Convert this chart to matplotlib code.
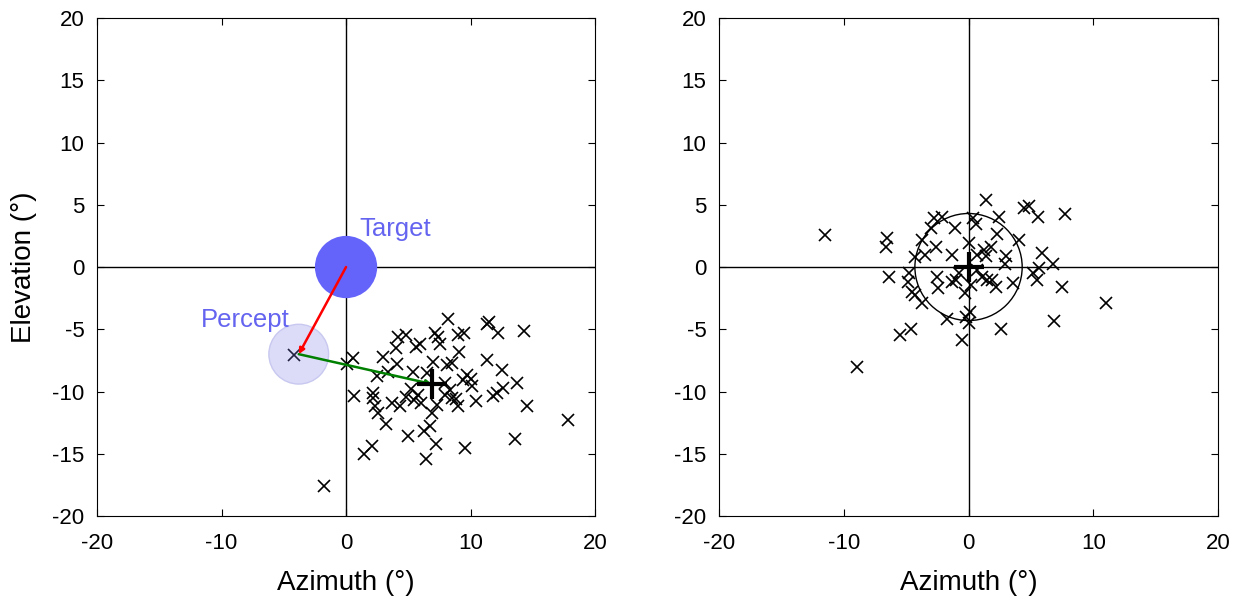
import numpy as np
import matplotlib
matplotlib.use("Agg")
import matplotlib.pyplot as plt
from matplotlib.patches import Circle

plt.rcParams['font.family'] = ['Liberation Sans', 'DejaVu Sans']
plt.rcParams['axes.unicode_minus'] = False

# left panel: responses to a target at (0, 0)
left_az = [8.2, 11.3, 11.5, 12.2, 14.3, 4.15, 4.8, 4.0, 5.6, 5.9, 7.15, 7.4, 7.55, 9.0, 9.5,
           9.1, 6.96, 11.35, 12.5, 0.59, 0.1, 2.95, 4.07, 3.4, 2.46, 5.4, 8.1, 8.5, 9.7, 9.4,
           10.1, 13.7, 12.6, 12.1, 11.8, 14.5, 10.4, 9.0, 8.5, 7.95, 8.35, 0.67, 2.14, 2.2,
           2.33, 2.6, 3.2, 4.34, 4.8, 5.46, 5.8, 7.28, 6.9, 6.75, 6.27, 7.2, 6.4, 5.0, 9.56,
           13.6, 17.8, 2.06, 1.45, -1.74, 7.95, 6.5, 10.0, 3.7, 5.2, 6.0, 8.8]
left_el = [-4.2, -4.58, -4.4, -5.33, -5.1, -5.65, -5.46, -6.5, -6.4, -6.2, -5.33, -5.65, -6.2,
           -5.46, -5.33, -6.8, -7.6, -7.5, -8.27, -7.34, -7.8, -7.26, -7.8, -8.4, -8.76, -8.4,
           -7.87, -7.74, -8.67, -9.1, -9.56, -9.35, -9.75, -10.15, -10.36, -11.2, -10.8, -11.2,
           -10.5, -10.3, -9.9, -10.36, -10.1, -10.5, -11.2, -11.7, -12.6, -11.2, -10.4, -10.7,
           -10.3, -11.1, -11.75, -12.8, -13.2, -14.2, -15.4, -13.6, -14.5, -13.8, -12.3,
           -14.35, -15.0, -17.6, -9.35, -8.5, -9.0, -10.9, -9.8, -10.9, -10.6]
percept_x, percept_y = -4.2, -7.1
percept_circle = (-3.8, -7.0)
target_xy = (0, 0)
left_mean = (6.9, -9.4)

# right panel: responses around the target
right_az = [-11.5, -6.53, -6.6, -6.35, -8.94, -5.5, -4.58, -4.74, -4.85, -4.52, -4.26, -3.72,
            -4.31, -3.72, -3.45, -2.57, -3.0, -2.79, -2.12, -1.12, -1.31, 0.03, 0.37, 0.56,
            1.37, 2.44, 2.25, 1.77, 1.37, 2.97, 2.89, 4.04, 4.44, 4.85, 5.6, 7.74, 5.86, 6.8,
            5.65, 5.2, 5.46, 7.52, 11.0, 6.85, 3.59, 2.62, 2.17, 1.5, 1.1, 0.16, -0.32, 0.1,
            -0.24, 0.03, -0.51, -1.71, -1.31, -1.04, -2.51, -2.43, -0.78, 0.64, 1.23, 1.9, 0.7]
right_el = [2.57, 2.36, 1.63, -0.78, -8.0, -5.46, -4.98, -0.5, -1.18, -1.98, -2.25, -2.9,
            0.83, 2.17, 0.96, 1.63, 3.1, 3.96, 4.04, 3.16, 0.96, 1.9, 3.9, 3.43, 5.38, 4.04,
            2.62, 1.63, 0.9, 0.9, 0.21, 2.17, 4.77, 4.93, 4.04, 4.23, 1.1, 0.21, -0.1, -0.51,
            -1.04, -1.58, -2.92, -4.34, -1.31, -4.98, -1.58, -1.04, -0.78, -1.45, -2.1, -3.59,
            -3.99, -4.52, -5.86, -4.18, -1.18, -1.04, -0.78, -1.71, -0.51, 0.96, 1.37, -1.04, -0.24]
right_mean = (0.0, 0.0)
right_radius = 4.3

ticks = [-20, -15, -10, -5, 0, 5, 10, 15, 20]
xticks = [-20, -10, 0, 10, 20]

fig = plt.figure(figsize=(12.41, 6.01), dpi=100)
ax1 = fig.add_axes([0.0782, 0.1414, 0.4013, 0.8286])
ax2 = fig.add_axes([0.5794, 0.1414, 0.4021, 0.8286])

for ax in (ax1, ax2):
    ax.set_xlim(-20, 20)
    ax.set_ylim(-20, 20)
    ax.set_xticks(xticks)
    ax.set_yticks(ticks)
    ax.axhline(0, color='black', lw=1, zorder=1)
    ax.axvline(0, color='black', lw=1, zorder=1)
    ax.tick_params(direction='in', top=True, right=True, labelsize=16, length=5)
    ax.tick_params(axis='x', pad=12)
    ax.tick_params(axis='y', pad=9)
    for s in ax.spines.values():
        s.set_linewidth(0.8)
    ax.set_xlabel('Azimuth (°)', fontsize=20, labelpad=12)

ax1.set_ylabel('Elevation (°)', fontsize=20, labelpad=11)

# left panel
ax1.add_patch(Circle(target_xy, 2.5, facecolor='#6464fa', edgecolor='none', zorder=2))
ax1.add_patch(Circle(percept_circle, 2.4, facecolor='#dcdcf8', edgecolor='#c8c8f0', lw=1, zorder=2))
ax1.plot(left_az, left_el, 'x', color='black', ms=9, mew=1.2, zorder=3)
ax1.plot([percept_x], [percept_y], 'x', color='#202040', ms=9, mew=1.2, zorder=3)
ax1.annotate('', xy=percept_circle, xytext=target_xy,
             arrowprops=dict(arrowstyle='-|>', color='red', lw=1.8, mutation_scale=8,
                             shrinkA=0, shrinkB=0), zorder=4)
ax1.annotate('', xy=left_mean, xytext=percept_circle,
             arrowprops=dict(arrowstyle='-|>', color='green', lw=1.8, mutation_scale=8,
                             shrinkA=0, shrinkB=0), zorder=4)
ax1.plot([left_mean[0]], [left_mean[1]], '+', color='black', ms=22, mew=3, zorder=5)
ax1.text(1.1, 2.5, 'Target', color='#6464f0', fontsize=18.5, zorder=6)
ax1.text(-11.7, -4.8, 'Percept', color='#6464f0', fontsize=18.5, zorder=6)

# right panel
ax2.add_patch(Circle(right_mean, right_radius, facecolor='none', edgecolor='black', lw=1, zorder=2))
ax2.plot(right_az, right_el, 'x', color='black', ms=9, mew=1.2, zorder=3)
ax2.plot([right_mean[0]], [right_mean[1]], '+', color='black', ms=22, mew=3, zorder=5)

fig.savefig('out.png', dpi=100)
